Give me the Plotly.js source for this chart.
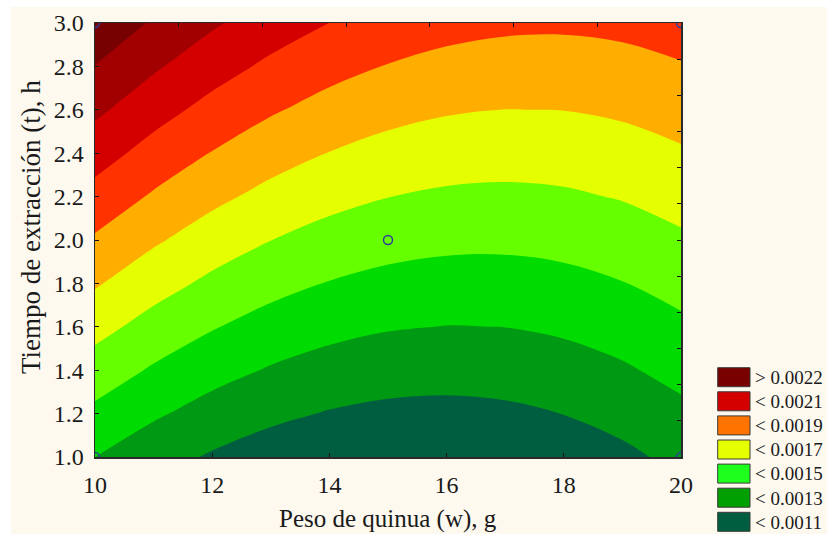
<!DOCTYPE html>
<html>
<head>
<meta charset="utf-8">
<script src="https://cdn.plot.ly/plotly-3.0.1.min.js"></script>
<style>
  html, body { margin: 0; padding: 0; background: #ffffff; }
  #chart { position: absolute; left: 11px; top: 7px; width: 816px; height: 527px; }
</style>
</head>
<body>
<div id="chart"></div>
<script>
// Peso de quinua (w), g
const pesoW = [10, 11, 12, 13, 14, 15, 16, 17, 18, 19, 20];
// Tiempo de extracción (t), h
const tiempoT = [1.0, 1.2, 1.4, 1.6, 1.8, 2.0, 2.2, 2.4, 2.6, 2.8, 3.0];

// Response values, one row per extraction time (rows follow tiempoT, columns follow pesoW)
const respuesta = [
  [0.0012375, 0.0011532, 0.0010853, 0.0010338, 0.0009988, 0.0009802, 0.0009782, 0.0009925, 0.0010234, 0.0010707, 0.0011344],
  [0.0013441, 0.0012562, 0.0011848, 0.0011298, 0.0010913, 0.0010693, 0.0010637, 0.0010746, 0.0011019, 0.0011457, 0.0012059],
  [0.0014507, 0.0013593, 0.0012844, 0.0012259, 0.0011839, 0.0011583, 0.0011492, 0.0011566, 0.0011804, 0.0012207, 0.0012774],
  [0.0015573, 0.0014624, 0.0013840, 0.0013220, 0.0012764, 0.0012474, 0.0012348, 0.0012386, 0.0012589, 0.0012957, 0.0013489],
  [0.0016639, 0.0015655, 0.0014835, 0.0014180, 0.0013690, 0.0013364, 0.0013203, 0.0013206, 0.0013374, 0.0013707, 0.0014204],
  [0.0017705, 0.0016686, 0.0015831, 0.0015141, 0.0014615, 0.0014255, 0.0014058, 0.0014027, 0.0014160, 0.0014457, 0.0014919],
  [0.0018770, 0.0017717, 0.0016827, 0.0016102, 0.0015541, 0.0015145, 0.0014914, 0.0014847, 0.0014945, 0.0015207, 0.0015634],
  [0.0019836, 0.0018747, 0.0017823, 0.0017062, 0.0016467, 0.0016036, 0.0015769, 0.0015667, 0.0015730, 0.0015957, 0.0016349],
  [0.0020902, 0.0019778, 0.0018818, 0.0018023, 0.0017392, 0.0016926, 0.0016624, 0.0016488, 0.0016515, 0.0016707, 0.0017064],
  [0.0021968, 0.0020809, 0.0019814, 0.0018984, 0.0018318, 0.0017817, 0.0017480, 0.0017308, 0.0017300, 0.0017458, 0.0017779],
  [0.0023034, 0.0021840, 0.0020810, 0.0019944, 0.0019243, 0.0018707, 0.0018335, 0.0018128, 0.0018086, 0.0018208, 0.0018494]
];

// Contour levels
const nivelInicio = 0.0011;
const nivelFin = 0.0022;
const nivelPaso = 0.0001375;

// Band colours, lowest to highest
const coloresBandas = ['#005e40', '#009913', '#00dc00', '#66ff00', '#e6ff00',
                       '#ffae00', '#ff3200', '#d40000', '#a20000', '#770000'];

// Experimental points (centre + corners of the design)
const puntosW = [15, 10, 20, 10, 20];
const puntosT = [2.0, 3.0, 3.0, 1.0, 1.0];

// Legend entries
const leyendaTextos = ['> 0.0022', '< 0.0021', '< 0.0019', '< 0.0017', '< 0.0015', '< 0.0013', '< 0.0011'];
const leyendaColores = ['#780000', '#d40000', '#ff7400', '#e6ff00', '#1eff1e', '#00a000', '#005e40'];

// Stepwise colour scale: one flat colour per band
const nb = coloresBandas.length;
const escala = [];
coloresBandas.forEach((c, k) => {
  const a = k === 0 ? 0 : (k - 0.5) / (nb - 1);
  const b = k === nb - 1 ? 1 : (k + 0.5) / (nb - 1);
  escala.push([a, c], [b, c]);
});

// Layout geometry (div is 816 x 527)
const M = { l: 84, r: 146, t: 16, b: 77 };
const W = 816, H = 527;
const pw = W - M.l - M.r, ph = H - M.t - M.b;
const px = x => (x - M.l) / pw;          // div pixel -> paper x
const py = y => 1 - (y - M.t) / ph;      // div pixel -> paper y

const serif = 'Liberation Serif, Times New Roman, serif';

const contorno = {
  type: 'contour',
  x: pesoW, y: tiempoT, z: respuesta,
  autocontour: false,
  contours: { start: nivelInicio, end: nivelFin + nivelPaso * 0.001, size: nivelPaso,
              coloring: 'fill', showlines: false },
  line: { width: 0, smoothing: 1 },
  colorscale: escala,
  showscale: false,
  hoverinfo: 'skip'
};

const puntos = {
  type: 'scatter', mode: 'markers',
  x: puntosW, y: puntosT,
  marker: { symbol: 'circle-open', size: 9, color: '#2e3d9c', line: { width: 1.5 } },
  cliponaxis: true,
  hoverinfo: 'skip', showlegend: false
};

// Carrier for the extra top/right tick sets
const auxiliar = {
  type: 'scatter', mode: 'markers', x: [], y: [],
  xaxis: 'x2', yaxis: 'y2', hoverinfo: 'skip', showlegend: false
};

const shapes = [];
const annotations = [];
leyendaTextos.forEach((txt, k) => {
  const top = 360.7 + 24.1 * k;
  shapes.push({
    type: 'rect', xref: 'paper', yref: 'paper',
    x0: px(706.7), x1: px(739), y0: py(top + 19), y1: py(top),
    fillcolor: leyendaColores[k], line: { color: '#3a3a3a', width: 1 }
  });
  annotations.push({
    xref: 'paper', yref: 'paper', x: px(742), y: py(top + 9.8),
    xanchor: 'left', yanchor: 'middle', showarrow: false,
    text: txt, font: { family: serif, size: 19, color: '#1a1a1a' }
  });
});

annotations.push({
  xref: 'paper', yref: 'paper', x: 0.5, y: py(511.5),
  xanchor: 'center', yanchor: 'middle', showarrow: false,
  text: 'Peso de quinua (w), g', font: { family: serif, size: 25, color: '#1a1a1a' }
});
annotations.push({
  xref: 'paper', yref: 'paper', x: px(20), y: py(220),
  xanchor: 'center', yanchor: 'middle', showarrow: false, textangle: -90,
  text: 'Tiempo de extracción (t), h', font: { family: serif, size: 27, color: '#1a1a1a' }
});

const layout = {
  width: W, height: H,
  margin: M,
  paper_bgcolor: '#fdf9ef',
  plot_bgcolor: '#fdf9ef',
  showlegend: false,
  xaxis: {
    range: [10, 20], tickvals: [10, 12, 14, 16, 18, 20],
    ticks: 'inside', ticklen: 4, tickwidth: 1, tickcolor: '#111',
    showline: true, linecolor: '#2a2a2a', linewidth: 1.5, mirror: true,
    showgrid: false, zeroline: false,
    tickfont: { family: serif, size: 24, color: '#1a1a1a' },
    ticklabelstandoff: 6
  },
  yaxis: {
    range: [1, 3], tickvals: [1.0, 1.2, 1.4, 1.6, 1.8, 2.0, 2.2, 2.4, 2.6, 2.8, 3.0],
    tickformat: '.1f',
    ticks: 'inside', ticklen: 4, tickwidth: 1, tickcolor: '#111',
    showline: true, linecolor: '#2a2a2a', linewidth: 1.5, mirror: true,
    showgrid: false, zeroline: false,
    tickfont: { family: serif, size: 24, color: '#1a1a1a' },
    ticklabelstandoff: 5
  },
  xaxis2: {
    overlaying: 'x', side: 'top', anchor: 'y2', range: [0, 7], dtick: 1,
    ticks: 'inside', ticklen: 4, tickwidth: 1, tickcolor: '#111',
    showticklabels: false, showgrid: false, zeroline: false, showline: false
  },
  yaxis2: {
    overlaying: 'y', side: 'right', anchor: 'x2', range: [0, 12], dtick: 1,
    ticks: 'inside', ticklen: 4, tickwidth: 1, tickcolor: '#111',
    showticklabels: false, showgrid: false, zeroline: false, showline: false
  },
  shapes: shapes,
  annotations: annotations
};

Plotly.newPlot('chart', [contorno, puntos, auxiliar], layout, { staticPlot: true, displayModeBar: false });
</script>
</body>
</html>
